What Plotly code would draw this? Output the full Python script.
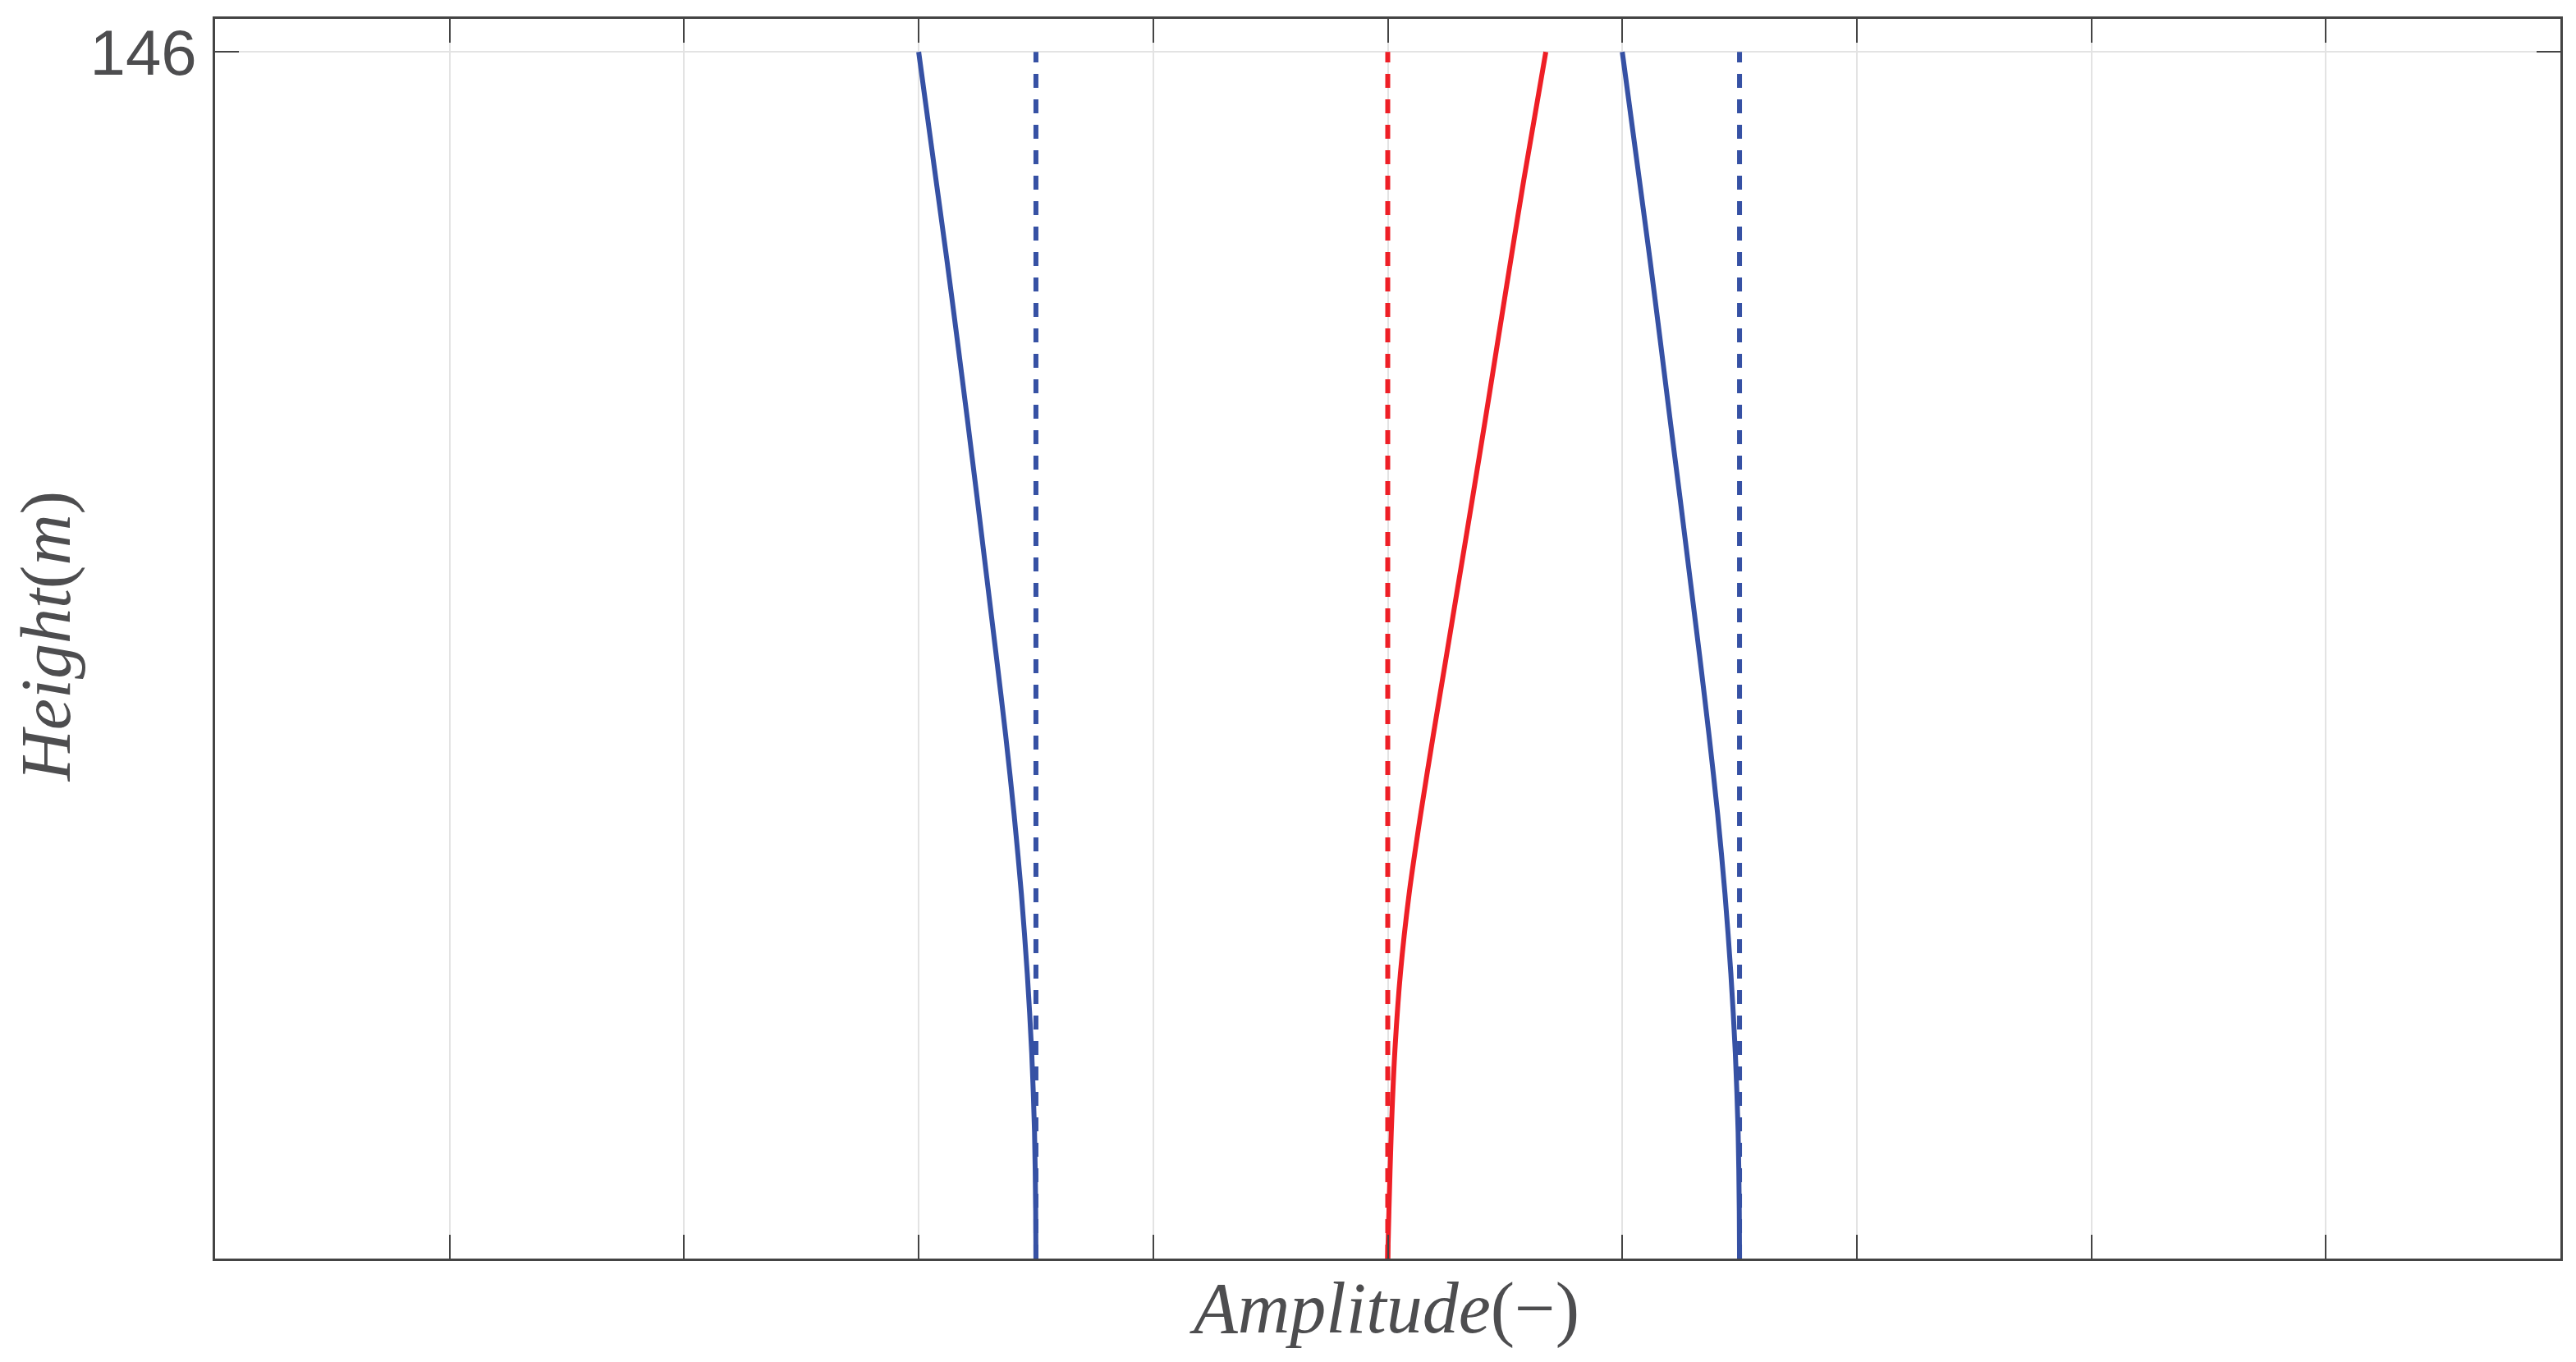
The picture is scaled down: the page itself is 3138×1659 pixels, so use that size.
import plotly.graph_objects as go

# ---- data ----
heights = [0, 5.7, 15.3, 24.9, 34.5, 44.1, 53.7, 63.3, 72.9, 82.5, 92.1, 101.7, 111.3, 120.9, 130.5, 146]
mode_left = [-1.5, -1.501, -1.506, -1.518, -1.537, -1.562, -1.593, -1.629, -1.669, -1.710,
             -1.751, -1.793, -1.836, -1.880, -1.926, -2.0]
mode_right = [1.5, 1.499, 1.494, 1.482, 1.463, 1.438, 1.407, 1.370, 1.330, 1.288,
              1.246, 1.203, 1.161, 1.118, 1.073, 1.0]
mode_center = [0, 0.005, 0.015, 0.030, 0.054, 0.091, 0.140, 0.194, 0.250, 0.306,
               0.362, 0.417, 0.471, 0.525, 0.580, 0.674]

ref_blue = [-1.5, 1.5]
ref_red = [0.0]
ref_heights = [0, 146]

x_grid = [-4, -3, -2, -1, 0, 1, 2, 3, 4]
y_ticks = [146]
y_ticklabels = ["146"]

BLUE = "#3651A4"
RED = "#EE1F26"
AX = "#444444"
GRID = "#E3E3E3"
TXT = "#4D4D4F"

fig = go.Figure()

for xr in ref_blue:
    fig.add_trace(go.Scatter(x=[xr] * len(ref_heights), y=ref_heights, mode="lines",
                             line=dict(color=BLUE, width=6, dash="17px,14px"), showlegend=False))
for xr in ref_red:
    fig.add_trace(go.Scatter(x=[xr] * len(ref_heights), y=ref_heights, mode="lines",
                             line=dict(color=RED, width=6, dash="17px,14px"), showlegend=False))

for xs, col in [(mode_left, BLUE), (mode_right, BLUE), (mode_center, RED)]:
    fig.add_trace(go.Scatter(x=xs, y=heights, mode="lines",
                             line=dict(color=col, width=6, shape="spline", smoothing=0.8),
                             showlegend=False))

fig.update_layout(
    width=3138, height=1659,
    margin=dict(l=254, r=27, t=15, b=134),
    paper_bgcolor="white", plot_bgcolor="white",
    font=dict(family="Liberation Sans, Arial, sans-serif", color=TXT),
    xaxis=dict(range=[-5, 5], tickvals=x_grid, showticklabels=False,
               ticks="inside", ticklen=29, tickwidth=2, tickcolor=AX,
               showline=True, linecolor=AX, linewidth=2.5, mirror="ticks",
               showgrid=True, gridcolor=GRID, gridwidth=2, zeroline=False),
    yaxis=dict(range=[0, 150], tickvals=y_ticks, ticktext=y_ticklabels,
               tickfont=dict(size=78, color=TXT), ticklabelstandoff=4,
               ticks="inside", ticklen=29, tickwidth=2, tickcolor=AX,
               showline=True, linecolor=AX, linewidth=2.5, mirror="ticks",
               showgrid=True, gridcolor=GRID, gridwidth=2, zeroline=False),
    annotations=[
        dict(text="<i>Amplitude</i>(−)", xref="paper", yref="paper", x=0.4985, y=-0.040,
             xanchor="center", yanchor="middle", showarrow=False,
             font=dict(family="Liberation Serif, Times New Roman, serif", size=88, color=TXT)),
        dict(text="<i>Height</i>(<i>m</i>)", xref="paper", yref="paper", x=-0.0720, y=0.502,
             xanchor="center", yanchor="middle", showarrow=False, textangle=-90,
             font=dict(family="Liberation Serif, Times New Roman, serif", size=86, color=TXT)),
    ],
)

fig.write_html("out.html")
